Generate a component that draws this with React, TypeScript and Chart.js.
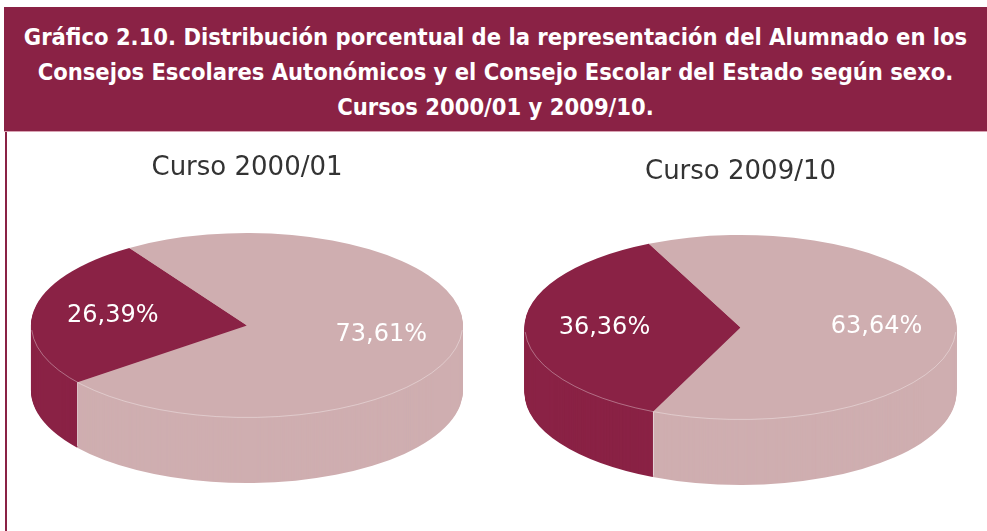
import React, { useEffect, useRef } from "react";
import { Chart, registerables } from "chart.js";

Chart.register(...registerables);

// ---- data ----
const sexes = ["Mujeres", "Hombres"];
const courseTitles = ["Curso 2000/01", "Curso 2009/10"];
const values2000 = [26.39, 73.61];
const values2009 = [36.36, 63.64];
const sliceColors = ["#8A2245", "#CFAEB0"];
const headerLines = [
  "Gráfico 2.10. Distribución porcentual de la representación del Alumnado en los",
  "Consejos Escolares Autonómicos y el Consejo Escolar del Estado según sexo.",
  "Cursos 2000/01 y 2009/10.",
];

const MAROON = "#8A2245";

const fmt = (v: number) => v.toFixed(2).replace(".", ",") + "%";

// Draws the pie as an extruded ellipse (pseudo 3D) using the arcs laid out by Chart.js
const pie3d = {
  id: "pie3d",
  beforeDatasetsDraw(chart: any, _args: any, opts: any) {
    const meta = chart.getDatasetMeta(0);
    const arcs = meta.data;
    if (!arcs.length) return false;
    const ctx = chart.ctx as CanvasRenderingContext2D;
    const cx = arcs[0].x;
    const cy = arcs[0].y;
    const R = arcs[0].outerRadius;
    const rx = opts.rx;
    const sx = rx / R;
    const depth = opts.depth;
    for (let d = depth; d >= 0; d--) {
      ctx.save();
      ctx.translate(cx, cy + d);
      ctx.scale(sx, 1);
      ctx.translate(-cx, -cy);
      arcs.forEach((a: any) => a.draw(ctx));
      ctx.restore();
    }
    // subtle rim highlight on the top face front edge
    ctx.save();
    ctx.strokeStyle = "rgba(255,255,255,0.35)";
    ctx.lineWidth = 1;
    ctx.beginPath();
    ctx.ellipse(cx, cy, rx - 0.5, R - 0.5, 0, 0.05, Math.PI - 0.05);
    ctx.stroke();
    // slice boundaries on the visible side wall
    ctx.strokeStyle = "rgba(255,255,255,0.55)";
    arcs.forEach((a: any) => {
      const ang = a.startAngle;
      const s = Math.sin(ang);
      if (s > 0.02) {
        const x = cx + Math.cos(ang) * rx;
        const y = cy + s * R;
        ctx.beginPath();
        ctx.moveTo(Math.round(x) + 0.5, y);
        ctx.lineTo(Math.round(x) + 0.5, y + depth * 0.98);
        ctx.stroke();
      }
    });
    ctx.restore();
    return false;
  },
  afterDraw(chart: any, _args: any, opts: any) {
    const meta = chart.getDatasetMeta(0);
    const arcs = meta.data;
    if (!arcs.length) return;
    const ctx = chart.ctx as CanvasRenderingContext2D;
    const vals = chart.data.datasets[0].data as number[];
    const rx = opts.rx;
    ctx.save();
    ctx.fillStyle = "#ffffff";
    ctx.font = "24px 'DejaVu Sans', sans-serif";
    ctx.textAlign = "center";
    ctx.textBaseline = "middle";
    arcs.forEach((a: any, i: number) => {
      const mid = (a.startAngle + a.endAngle) / 2;
      const x = a.x + Math.cos(mid) * rx * 0.63;
      const y = a.y + Math.sin(mid) * a.outerRadius * 0.63;
      ctx.fillText(fmt(vals[i]), x, y);
    });
    ctx.restore();
  },
};

function PieCanvas(props: {
  left: number;
  width: number;
  title: string;
  values: number[];
  rotation: number;
  titleTop: number;
}) {
  const ref = useRef<HTMLCanvasElement | null>(null);
  useEffect(() => {
    if (!ref.current) return;
    const chart = new Chart(ref.current, {
      type: "pie",
      data: {
        labels: sexes,
        datasets: [
          {
            data: props.values,
            backgroundColor: sliceColors,
            borderWidth: 0,
            radius: 92.5,
          } as any,
        ],
      },
      options: {
        responsive: false,
        animation: false,
        events: [],
        rotation: props.rotation,
        layout: { padding: { top: 0, bottom: 73, left: 0, right: 0 } },
        plugins: {
          legend: { display: false },
          tooltip: { enabled: false },
          title: {
            display: true,
            text: props.title,
            color: "#333333",
            font: { family: "'DejaVu Sans', sans-serif", size: 26, weight: "normal", lineHeight: 30 / 26 },
            padding: { top: props.titleTop, bottom: 10 },
          },
          pie3d: { rx: 216, depth: 65 },
        } as any,
      },
      plugins: [pie3d as any],
    });
    return () => chart.destroy();
  }, []);
  return (
    <canvas
      ref={ref}
      width={props.width}
      height={399}
      style={{ position: "absolute", left: props.left, top: 132, width: props.width, height: 399 }}
    />
  );
}

export default function App() {
  return (
    <div
      style={{
        position: "absolute",
        left: 0,
        top: 0,
        width: 987,
        height: 531,
        background: "#ffffff",
        overflow: "hidden",
      }}
    >
      <div
        style={{
          position: "absolute",
          left: 4,
          top: 7,
          width: 983,
          height: 125,
          boxSizing: "border-box",
          background: MAROON,
          borderBottom: "1px solid #D9A3B3",
          color: "#ffffff",
          fontFamily: "'DejaVu Sans Condensed', 'DejaVu Sans', sans-serif",
          fontStretch: "condensed",
          fontWeight: "bold",
          fontSize: 23.5,
          lineHeight: "35px",
          textAlign: "center",
          paddingTop: 13.4,
          whiteSpace: "nowrap",
        }}
      >
        {headerLines.map((l) => (
          <div key={l}>{l}</div>
        ))}
      </div>
      <div style={{ position: "absolute", left: 5, top: 132, width: 2, height: 399, background: MAROON }} />
      <PieCanvas left={0} width={494} title={courseTitles[0]} values={values2000} rotation={232} titleTop={21} />
      <PieCanvas left={494} width={493} title={courseTitles[1]} values={values2009} rotation={204} titleTop={25} />
    </div>
  );
}
